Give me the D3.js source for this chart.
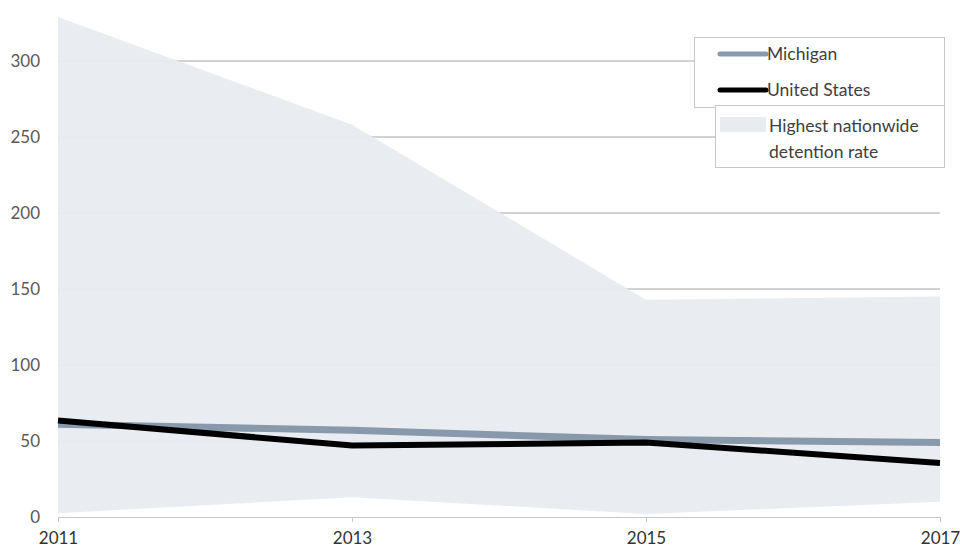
<!DOCTYPE html>
<html><head><meta charset="utf-8">
<script src="https://cdn.jsdelivr.net/npm/d3@7"></script>
<style>body{margin:0;background:#fff;}svg{display:block;}</style>
</head><body>
<svg id="c" width="960" height="548"></svg>
<script>
const years = [2011, 2013, 2015, 2017];
const michigan = [61, 57, 51, 49];
const unitedStates = [63.5, 47, 49, 35.5];
const rangeHigh = [329, 258, 143, 145];
const rangeLow = [2.5, 13, 2, 10];
const yTicks = [0, 50, 100, 150, 200, 250, 300];

const svg = d3.select("#c");
const x = d3.scaleLinear().domain([2011, 2017]).range([58, 940]);
const y = d3.scaleLinear().domain([0, 300]).range([517, 61]);
const font = "Lato, 'Open Sans', sans-serif";

// gridlines
svg.append("g").selectAll("line").data(yTicks.filter(d => d > 0)).join("line")
  .attr("x1", x(2011)).attr("x2", x(2017))
  .attr("y1", d => y(d)).attr("y2", d => y(d))
  .attr("stroke", "#a6a6a6").attr("stroke-width", 1);

// area
const rows = years.map((yr, i) => ({yr, lo: rangeLow[i], hi: rangeHigh[i]}));
svg.append("path").datum(rows)
  .attr("d", d3.area().x(d => x(d.yr)).y0(d => y(d.lo)).y1(d => y(d.hi)))
  .attr("fill", "#e8ebef").attr("fill-opacity", 0.95);

// x axis
const xAxis = d3.axisBottom(x).tickValues(years).tickFormat(d3.format("d")).tickSize(5).tickPadding(10);
const gx = svg.append("g").attr("transform", `translate(0,${y(0)})`).call(xAxis);
gx.select(".domain").attr("stroke", "#c8c8c8");
gx.selectAll(".tick line").attr("stroke", "#c8c8c8");
gx.selectAll("text").attr("font-family", font).attr("font-size", 17).attr("fill", "#333");

// y axis labels
const yAxis = d3.axisLeft(y).tickValues(yTicks).tickSize(0).tickPadding(18);
const gy = svg.append("g").attr("transform", `translate(58,0)`).call(yAxis);
gy.select(".domain").remove();
gy.selectAll("text").attr("font-family", font).attr("font-size", 17).attr("fill", "#595959");

// lines
const line = d3.line().x((d, i) => x(years[i])).y(d => y(d));
svg.append("path").datum(michigan).attr("d", line).attr("fill", "none")
  .attr("stroke", "#8899ab").attr("stroke-width", 7);
svg.append("path").datum(unitedStates).attr("d", line).attr("fill", "none")
  .attr("stroke", "#000").attr("stroke-width", 6);

// legend
const lg = svg.append("g");
lg.append("rect").attr("x", 694.5).attr("y", 37.5).attr("width", 250).attr("height", 70)
  .attr("fill", "#fff").attr("stroke", "#c8c8c8");
lg.append("rect").attr("x", 715.5).attr("y", 105.5).attr("width", 229).attr("height", 62)
  .attr("fill", "#fff").attr("stroke", "#c8c8c8");
lg.append("line").attr("x1", 720).attr("x2", 766).attr("y1", 54).attr("y2", 54)
  .attr("stroke", "#8899ab").attr("stroke-width", 5).attr("stroke-linecap", "round");
lg.append("line").attr("x1", 720).attr("x2", 766).attr("y1", 90).attr("y2", 90)
  .attr("stroke", "#000").attr("stroke-width", 5).attr("stroke-linecap", "round");
lg.append("rect").attr("x", 720).attr("y", 117).attr("width", 46).attr("height", 15).attr("fill", "#e8ebef");
const lt = [["Michigan", 767, 60], ["United States", 767, 96], ["Highest nationwide", 769, 132], ["detention rate", 769, 158]];
lg.selectAll("text").data(lt).join("text")
  .attr("x", d => d[1]).attr("y", d => d[2]).text(d => d[0])
  .attr("font-family", font).attr("font-size", 17.5).attr("fill", "#404040");
</script>
</body></html>
